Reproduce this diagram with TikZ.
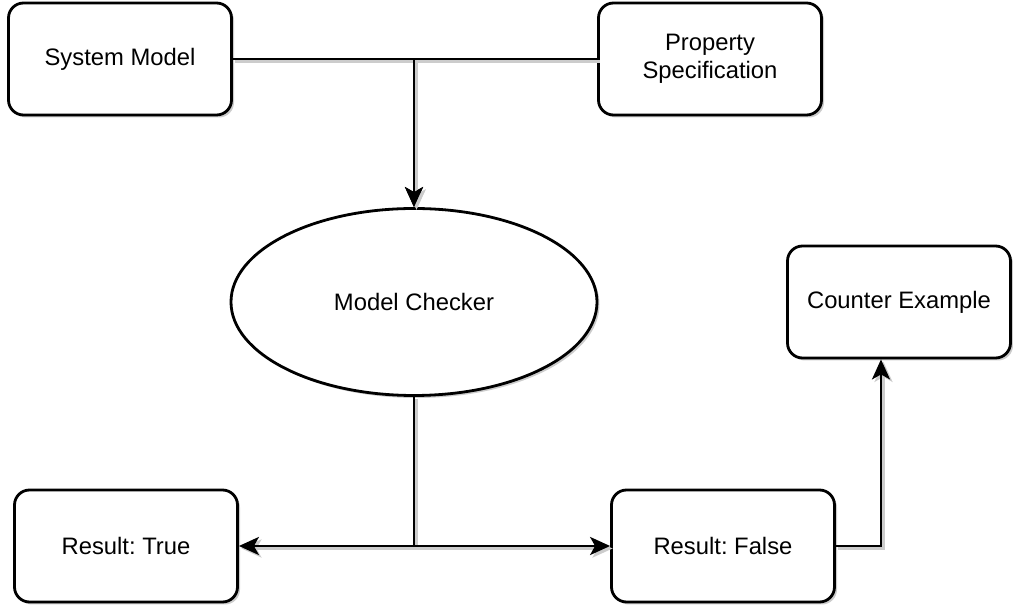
\documentclass[tikz,border=0pt]{standalone}
\usepackage{fontspec}
\setmainfont{Liberation Sans}
\frenchspacing
\usetikzlibrary{arrows.meta,shapes.geometric,shadows}

\tikzset{
  x=1pt, y=1pt,
  shade box/.style={drop shadow={shadow xshift=2.5pt, shadow yshift=-2.5pt, fill=black, opacity=0.2}},
  card/.style={draw=black, line width=2.8pt, fill=white, rounded corners=15pt,
    minimum width=223pt, minimum height=112pt, align=center, shade box,
    font=\fontsize{23.8}{28}\selectfont},
  oval/.style={draw=black, line width=2.8pt, fill=white, ellipse,
    minimum width=366pt, minimum height=187pt, shade box,
    font=\fontsize{23.8}{28}\selectfont},
  link/.style={draw=black, line width=2.8pt,
    preaction={draw=black!20, line width=3.2pt, transform canvas={shift={(2.5pt,-2.5pt)}}}},
  arrowlink/.style={link, -{Stealth[length=20pt, width=18pt, inset=5pt]}},
}

\begin{document}
\begin{tikzpicture}
\useasboundingbox (0,0) rectangle (1013,613);

\coordinate (sysc) at (120,554);
\coordinate (propc) at (710,554);
\coordinate (mcc) at (414,311);
\coordinate (cec) at (899,311);
\coordinate (rtc) at (126,67);
\coordinate (rfc) at (723,67);

\node[card] (sys) at (sysc) {System Model};
\node[card] (prop) at (propc) {Property\\Specification};
\node[oval] (mc) at (mcc) {Model Checker};
\node[card] (ce) at (cec) {Counter Example};
\node[card] (rt) at (rtc) {Result: True};
\node[card] (rf) at (rfc) {Result: False};

% orthogonal connectors between the shapes
\draw[arrowlink] (sys.east) -| (mc.north);
\draw[arrowlink] (prop.west) -| (mc.north);
\draw[arrowlink] (mc.south) |- (rt.east);
\draw[arrowlink] (mc.south) |- (rf.west);
\draw[arrowlink] (rf.east) -| ([xshift=-18pt]ce.south);
\end{tikzpicture}
\end{document}
